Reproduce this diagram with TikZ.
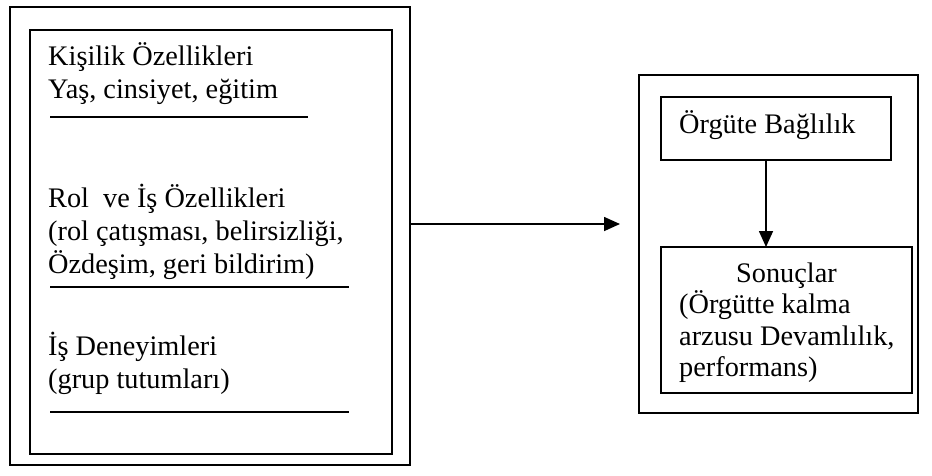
\documentclass[tikz,border=0pt]{standalone}
\usepackage{fontspec}
\setmainfont{Liberation Serif}
\usetikzlibrary{arrows.meta,calc}
\begin{document}
\begin{tikzpicture}[x=1pt,y=-1pt,
  frame/.style={draw, line width=2pt, inner sep=0pt, outer sep=0pt},
  rulel/.style={line width=1.8pt},
  txt/.style={anchor=base west, inner sep=0pt, font=\fontsize{28.3}{33}\selectfont},
  ctxt/.style={txt, anchor=base},
  ar/.style={line width=1.6pt, -{Triangle[length=16pt,width=14pt]}}]
\useasboundingbox (0,0) rectangle (932,475);
% left side
\node[frame, minimum width=400pt, minimum height=458pt] (L) at (210,236) {};
\node[frame, minimum width=362pt, minimum height=424pt] (Li) at (211,242) {};
\node[txt] (t1) at (48,65) {Kişilik Özellikleri};
\node[txt] (t2) at (48,98) {Yaş, cinsiyet, eğitim};
\draw[rulel] (50,117) -- (308,117);
\node[txt] (t3) at (48,207) {Rol\hspace{0.5em}ve İş Özellikleri};
\node[txt] (t4) at (48,240) {(rol çatışması, belirsizliği,};
\node[txt] (t5) at (48,273) {Özdeşim, geri bildirim)};
\draw[rulel] (50,287) -- (349,287);
\node[txt] (t6) at (48,355) {İş Deneyimleri};
\node[txt] (t7) at (48,388) {(grup tutumları)};
\draw[rulel] (50,412) -- (349,412);
% right side
\node[frame, minimum width=279pt, minimum height=338pt] (R) at (778.5,244) {};
\node[frame, minimum width=230pt, minimum height=63pt] (B1) at (776,128.5) {};
\node[frame, minimum width=251pt, minimum height=146pt] (B2) at (786.5,320) {};
\node[txt] (r1) at (679,133) {Örgüte Bağlılık};
\node[ctxt] (r2) at (786.5,282) {Sonuçlar};
\node[txt] (r3) at (679,313) {(Örgütte kalma};
\node[txt] (r4) at (679,345) {arzusu Devamlılık,};
\node[txt] (r5) at (679,376) {performans)};
% connectors
\coordinate (A) at (0,224);
\draw[ar, shorten >=19pt] (L.east |- A) -- (R.west |- A);
\coordinate (V) at ($(B1.south)+(-10,0)$);
\draw[ar] (V) -- (V |- B2.north);
\end{tikzpicture}
\end{document}
